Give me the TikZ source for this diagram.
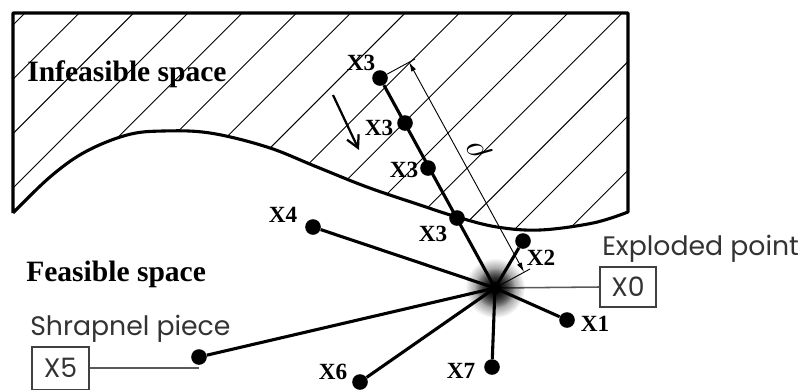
\documentclass[tikz,border=0pt]{standalone}
\usepackage{fontspec}
\setmainfont{Liberation Serif}
\newfontfamily\gothic{Poppins}
\usetikzlibrary{arrows.meta,fadings,calc}
\tikzfading[name=glowfade, inner color=transparent!0, outer color=transparent!100]
\begin{document}
\begin{tikzpicture}[x=0.025cm,y=-0.025cm,
  dot/.style={circle,fill=black,inner sep=0pt,minimum size=0.39cm},
  ray/.style={line width=2.2pt},
  frameline/.style={line width=2.2pt,line join=round},
  hatchline/.style={line width=0.65pt},
  dimline/.style={line width=0.65pt},
  lab/.style={font=\fontsize{16.5}{18}\selectfont\bfseries,inner sep=0pt},
  region/.style={font=\fontsize{21}{23}\selectfont\bfseries,inner sep=0pt,anchor=west},
  callout/.style={font=\gothic\fontsize{19}{21}\selectfont,text=black!80,inner sep=0pt,anchor=base west},
  tagbox/.style={draw=black!75,line width=1pt,font=\gothic\fontsize{19}{21}\selectfont,text=black!80,inner sep=0pt},
  leader/.style={draw=black!65,line width=1.1pt}]
\useasboundingbox (0,0) rectangle (804,390);
% hatching of the infeasible space
\begin{scope}
\clip (13,13) -- (628,13) -- plot[smooth,tension=0.6] coordinates {(628,212) (593,223) (540,230) (497,227) (457,217) (420,205) (367,187) (317,167) (267,147) (210,133) (163,131) (127,135) (85,152) (50,177) (13,213)} -- cycle;
\foreach \k in {0,...,15} \draw[hatchline] ({25+54.3*\k},13) -- ++(-300,300);
\end{scope}
% frame and boundary
\draw[frameline] (13,213) -- (13,13) -- (628,13) -- plot[smooth,tension=0.6] coordinates {(628,212) (593,223) (540,230) (497,227) (457,217) (420,205) (367,187) (317,167) (267,147) (210,133) (163,131) (127,135) (85,152) (50,177) (13,213)};
% points
\coordinate (X0) at (495,288);
\node[dot] (X1) at (567,320) {};
\node[dot] (X2) at (523,241) {};
\node[dot] (X3a) at (380,78) {};
\node[dot] (X3b) at (405,123) {};
\node[dot] (X3c) at (428,168) {};
\node[dot] (X3d) at (457,218) {};
\node[dot] (X4) at (313,227) {};
\node[dot] (X5) at (199,357) {};
\node[dot] (X6) at (360,382) {};
\node[dot] (X7) at (492,367) {};
% boxes and leaders
\node[tagbox,minimum width=1.4cm,minimum height=1.0cm] (X0box) at (628,287) {X0};
\node[tagbox,minimum width=1.425cm,minimum height=1.06cm] (X5box) at (60.5,368) {X5};
\draw[leader] (X0) -- (X0box.west);
\draw[leader] (X5box.east) -- (X5box.east -| X5);
% dimension rho
\coordinate (dT) at ($(X3a)+(29,-16)$);
\coordinate (dB) at ($(X0)+(29,-16)$);
\coordinate (eT) at ($(X3a)+(35,-19)$);
\coordinate (eB) at ($(X0)+(35,-19)$);
\draw[dimline] (X3a) -- (eT);
\draw[dimline] (X0) -- (eB);
\draw[dimline,{Latex[length=2.4mm,width=1.3mm]}-{Latex[length=2.4mm,width=1.3mm]}] (dT) -- (dB);
\node[rotate=120,font=\fontsize{23}{25}\selectfont,inner sep=0pt] (rho) at (480,150) {$\rho$};
% rays
\draw[ray] (X0) -- (X3a);
\draw[ray] (X0) -- (X1);
\draw[ray] (X0) -- (X2);
\draw[ray] (X0) -- (X4);
\draw[ray] (X0) -- (X5);
\draw[ray] (X0) -- (X6);
\draw[ray] (X0) -- (X7);
% glow at exploded point
\fill[black,path fading=glowfade] (X0) circle (30);
\fill[black,path fading=glowfade] (X0) circle (20);
\fill[black] (X0) circle (6);
% direction arrow
\coordinate (aS) at (333,95);
\coordinate (aE) at (359,150);
\draw[line width=1.6pt,-{Straight Barb[length=3mm,width=3.2mm]}] (aS) -- (aE);
% labels
\node[lab] (lX3a) at (361,63) {X3};
\node[lab] (lX3b) at (379,128) {X3};
\node[lab] (lX3c) at (404,170) {X3};
\node[lab] (lX3d) at (433,234) {X3};
\node[lab] (lX2) at (541,258) {X2};
\node[lab] (lX1) at (595,324) {X1};
\node[lab] (lX7) at (461,371) {X7};
\node[lab] (lX6) at (333,372) {X6};
\node[lab] (lX4) at (283,215) {X4};
\node[region] (inf) at (27,74) {Infeasible space};
\node[region] (fea) at (26,274) {Feasible space};
\node[callout] (shr) at (30,335) {Shrapnel piece};
\node[callout] (exp) at (602,255) {Exploded point};
\end{tikzpicture}
\end{document}
